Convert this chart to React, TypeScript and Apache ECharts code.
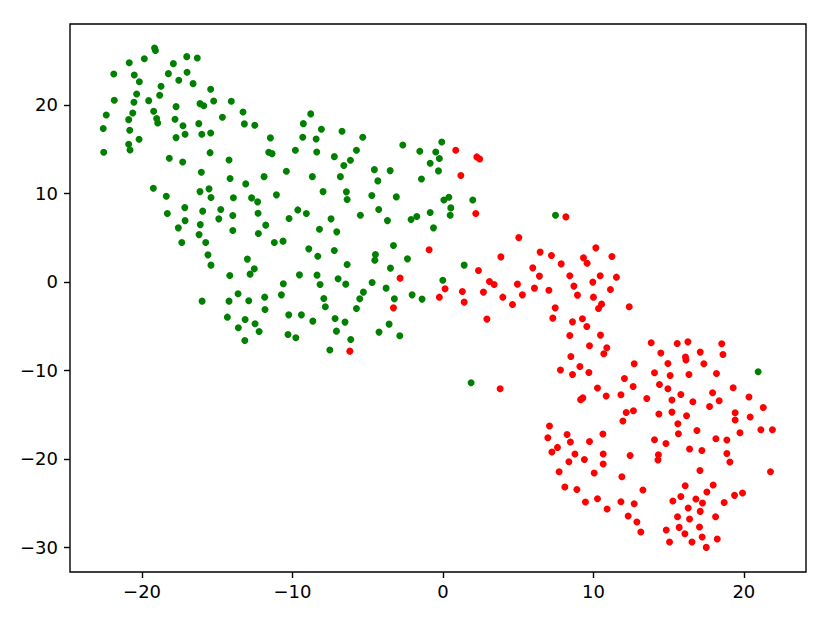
import React, { useEffect, useRef } from "react";
import * as echarts from "echarts";

const greenPoints: number[][] = [
  [-19.17,26.44],[-19.11,26.16],[-20.85,24.78],[-19.85,25.23],[-17.03,25.46],[-16.33,25.31],[-17.92,24.67],[-21.88,23.50],[-20.52,23.39],[-20.18,22.63],
  [-18.25,23.54],[-17.01,23.70],[-17.56,22.79],[-16.61,22.41],[-18.74,22.11],[-15.44,21.78],[-20.36,21.24],[-18.83,21.10],[-21.85,20.53],[-20.54,20.31],
  [-19.56,20.49],[-16.15,20.15],[-15.90,19.92],[-15.24,20.45],[-14.07,20.42],[-17.74,19.81],[-22.38,18.87],[-20.62,19.10],[-19.23,19.29],[-13.29,19.21],
  [-14.66,18.61],[-20.89,18.34],[-19.03,18.46],[-18.96,17.97],[-17.81,18.39],[-16.23,17.89],[-13.20,17.86],[-12.51,17.71],[-17.28,17.66],[-22.58,17.33],
  [-20.82,17.14],[-17.14,16.69],[-16.03,16.69],[-15.44,16.84],[-17.74,16.31],[-20.20,16.13],[-11.47,16.28],[-20.89,15.56],[-20.80,14.92],[-22.55,14.66],
  [-15.48,14.61],[-11.58,14.66],[-11.36,14.50],[-18.19,13.98],[-17.30,13.56],[-14.22,13.79],[-10.41,12.51],[-16.06,12.40],[-14.15,11.68],[-11.89,11.90],
  [-13.11,11.08],[-19.25,10.59],[-15.55,10.52],[-18.39,9.69],[-16.15,10.21],[-15.42,9.55],[-13.93,9.52],[-12.72,9.50],[-11.07,9.84],[-12.32,9.05],
  [-17.16,8.40],[-18.32,7.73],[-15.97,8.00],[-14.77,8.18],[-13.97,7.50],[-12.29,7.77],[-17.14,6.93],[-14.90,7.13],[-16.13,6.48],[-17.59,6.11],
  [-10.23,7.16],[-11.78,6.42],[-13.97,5.81],[-16.21,5.35],[-12.27,5.47],[-17.36,4.45],[-15.77,4.45],[-11.21,4.45],[-10.63,4.61],[-15.62,3.06],
  [-13.00,2.58],[-15.42,1.90],[-12.54,1.48],[-12.82,0.88],[-14.17,0.72],[-10.61,-0.21],[-16.01,-2.17],[-13.62,-1.34],[-14.22,-2.17],[-12.91,-2.13],
  [-11.85,-1.72],[-10.74,-1.46],[-11.83,-3.12],[-14.33,-3.98],[-13.15,-4.25],[-10.25,-3.72],[-13.60,-5.18],[-12.49,-4.73],[-12.22,-5.60],[-13.17,-6.62],
  [-10.30,-5.94],
  [-8.79,18.99],[-9.28,17.89],[-8.08,17.26],[-6.71,17.03],[-9.32,16.35],[-8.43,16.16],[-5.33,16.35],[-9.81,14.89],[-8.39,14.69],[-7.22,14.16],
  [-5.75,14.89],[-6.15,13.76],[-6.59,13.15],[-2.67,15.48],[-1.54,14.77],[-0.08,15.82],[-0.48,14.69],[-0.24,13.94],[-0.85,13.42],[-8.68,11.90],
  [-6.82,11.90],[-4.56,12.69],[-3.51,12.58],[-4.33,11.42],[-0.30,12.55],[-1.43,11.64],[-7.97,10.21],[-6.42,10.18],[-6.37,9.31],[-4.73,9.76],
  [-3.10,9.61],[0.06,9.27],[0.39,9.58],[1.98,9.27],[0.52,8.37],[0.48,7.54],[-9.65,8.14],[-9.08,7.73],[-7.44,7.13],[-5.49,7.54],
  [-4.27,8.18],[-3.69,6.93],[-2.12,7.05],[-1.74,7.39],[-0.85,7.84],[-0.63,6.11],[-8.21,5.96],[-7.06,5.66],[-8.92,3.74],[-8.32,2.91],
  [-7.22,3.55],[-4.49,3.09],[-4.53,2.46],[-3.29,4.11],[-2.36,2.61],[-6.37,1.97],[-3.49,1.56],[1.41,1.90],[-9.54,0.80],[-8.37,0.77],
  [-8.17,-0.29],[-6.97,0.35],[-6.46,-0.25],[-4.71,-0.07],[-3.78,-0.70],[-5.29,-1.15],[-5.53,-1.91],[-7.92,-1.87],[-7.82,-2.81],[-5.75,-3.00],
  [-3.23,-1.91],[-2.05,-1.46],[-1.39,-1.94],[-0.01,0.20],[-9.41,-3.72],[-8.65,-4.43],[-7.17,-4.13],[-6.51,-4.54],[-7.08,-5.56],[-6.13,-6.51],
  [-9.78,-6.31],[-4.25,-5.67],[-3.58,-4.77],[-2.87,-6.09],[-7.52,-7.70],[1.87,-11.40],[7.48,7.54],[20.95,-10.15],
];

const redPoints: number[][] = [
  [0.85,14.89],[2.25,14.13],[2.44,13.90],[1.19,12.02],[2.18,7.73],[-0.92,3.63],[2.36,1.29],[-2.85,0.43],[0.14,-0.78],[-0.24,-1.72],
  [1.29,-1.08],[1.41,-2.28],[-3.29,-2.93],[-6.19,-7.82],[8.17,7.35],[5.04,5.01],[3.85,2.83],[6.46,3.37],[7.21,2.98],[7.86,2.04],
  [10.16,3.85],[9.34,2.72],[9.58,2.12],[11.23,2.87],[5.97,1.59],[6.41,0.66],[8.43,0.69],[10.45,0.69],[11.53,0.54],[9.96,-0.02],
  [8.70,-0.47],[11.13,-0.86],[3.09,0.05],[3.40,-0.29],[4.95,-0.25],[6.08,-0.70],[7.04,-0.93],[2.69,-1.15],[3.98,-1.72],[5.28,-1.46],
  [8.94,-1.49],[10.00,-1.72],[4.62,-2.55],[7.46,-2.93],[10.54,-2.51],[10.34,-3.00],[2.92,-4.20],[7.30,-4.09],[8.61,-4.51],[9.27,-4.17],
  [9.56,-5.04],[8.43,-6.05],[10.47,-6.01],[9.74,-7.22],[10.89,-7.44],[10.69,-8.12],[8.50,-8.43],[12.38,-2.81],[13.84,-6.88],[14.48,-8.04],
  [15.57,-6.96],[16.28,-6.77],[17.10,-7.93],[16.12,-8.49],[16.15,-8.83],[18.53,-6.99],[18.61,-8.20],[12.71,-9.25],[7.81,-9.96],[9.10,-9.56],
  [8.61,-10.46],[9.70,-10.23],[14.06,-10.27],[12.06,-10.91],[14.39,-11.59],[12.64,-11.81],[10.27,-11.99],[10.85,-12.90],[11.83,-12.75],[13.55,-13.17],
  [3.80,-12.07],[9.15,-13.30],[9.30,-13.10],[14.35,-14.93],[12.18,-14.75],[12.66,-14.56],[11.96,-15.72],[7.08,-16.29],[8.25,-17.24],[10.63,-17.19],
  [6.97,-17.61],[8.47,-18.09],[9.74,-18.03],[14.06,-17.83],[7.61,-18.70],[7.24,-19.22],[8.77,-19.45],[10.65,-19.45],[12.44,-19.61],[14.32,-19.53],
  [14.29,-20.12],[9.40,-20.06],[8.37,-20.32],[10.65,-20.58],[7.72,-21.45],[10.05,-21.59],[11.89,-22.01],[8.10,-23.18],[8.90,-23.45],[13.29,-23.51],
  [9.47,-24.87],[10.27,-24.50],[11.83,-24.84],[12.71,-25.06],[10.91,-25.66],[12.31,-26.45],[12.89,-27.13],[13.15,-28.26],[14.95,-9.22],[17.34,-9.25],
  [15.10,-10.57],[16.35,-10.46],[18.18,-10.35],[14.95,-12.07],[15.81,-12.72],[17.92,-12.53],[19.29,-11.96],[15.22,-13.35],[16.61,-13.54],[18.36,-13.43],
  [17.72,-14.07],[20.34,-13.01],[21.29,-14.19],[19.42,-14.78],[19.42,-15.61],[20.42,-15.27],[15.22,-14.71],[16.19,-15.12],[15.61,-16.03],[15.65,-17.16],
  [16.88,-16.78],[18.14,-17.72],[18.87,-17.87],[19.74,-17.04],[21.13,-16.70],[21.90,-16.70],[14.82,-18.25],[16.39,-18.88],[17.21,-19.04],[18.87,-19.38],
  [19.07,-20.35],[17.08,-21.30],[21.77,-21.45],[16.10,-23.03],[17.96,-22.95],[17.54,-23.74],[19.38,-24.12],[19.91,-23.85],[15.28,-24.76],[15.81,-24.24],
  [16.81,-24.53],[17.25,-24.98],[18.69,-24.92],[16.30,-25.55],[17.10,-25.93],[15.59,-26.53],[16.39,-26.79],[18.12,-26.53],[14.84,-28.03],[15.70,-27.74],
  [17.05,-27.69],[16.08,-28.45],[17.23,-28.82],[15.06,-29.39],[16.55,-29.39],[18.23,-29.05],[17.50,-30.00],
];

const xTicks = [-20, -10, 0, 10, 20];
const yTicks = [-30, -20, -10, 0, 10, 20];
const xRange = [-24.79, 24.13];
const yRange = [-32.78, 29.15];

const fmt = (v: number) => (v < 0 ? "\u2212" + Math.abs(v) : String(v));

export default function App() {
  const ref = useRef<HTMLDivElement>(null);
  useEffect(() => {
    if (!ref.current) return;
    const chart = echarts.init(ref.current, null, { renderer: "svg" });
    const labelStyle = {
      color: "#000",
      fontFamily: "DejaVu Sans",
      fontSize: 18,
    };
    chart.setOption({
      animation: false,
      backgroundColor: "#fff",
      grid: {
        left: 70,
        top: 24,
        right: 24,
        bottom: 51,
        show: true,
        borderColor: "#000",
        borderWidth: 1.4,
        backgroundColor: "transparent",
      },
      xAxis: {
        type: "value",
        min: xRange[0],
        max: xRange[1],
        axisLine: { show: false, onZero: false },
        splitLine: { show: false },
        axisTick: {
          show: true,
          length: 6,
          lineStyle: { color: "#000", width: 1.4 },
          customValues: xTicks,
        },
        axisLabel: {
          ...labelStyle,
          margin: 10,
          customValues: xTicks,
          formatter: fmt,
        },
      },
      yAxis: {
        type: "value",
        min: yRange[0],
        max: yRange[1],
        axisLine: { show: false, onZero: false },
        splitLine: { show: false },
        axisTick: {
          show: true,
          length: 6,
          lineStyle: { color: "#000", width: 1.4 },
          customValues: yTicks,
        },
        axisLabel: {
          ...labelStyle,
          margin: 12,
          customValues: yTicks,
          formatter: fmt,
        },
      },
      series: [
        {
          type: "scatter",
          data: greenPoints,
          symbolSize: 7,
          itemStyle: { color: "#008000", opacity: 1 },
          silent: true,
        },
        {
          type: "scatter",
          data: redPoints,
          symbolSize: 7,
          itemStyle: { color: "#ff0000", opacity: 1 },
          silent: true,
        },
      ],
    });
    return () => chart.dispose();
  }, []);
  return (
    <div
      ref={ref}
      style={{ position: "fixed", left: 0, top: 0, width: 830, height: 623, background: "#fff" }}
    />
  );
}
